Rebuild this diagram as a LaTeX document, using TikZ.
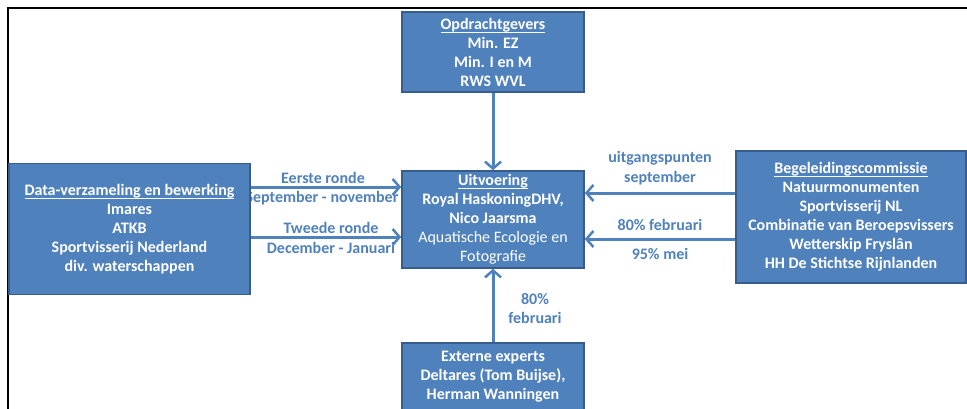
\documentclass[tikz,border=0pt]{standalone}
\usepackage{fontspec}
\setmainfont{Carlito}
\usetikzlibrary{arrows.meta}
\definecolor{boxblue}{HTML}{4F81BD}
\definecolor{boxedge}{HTML}{385D8A}
\newcommand\hdrline[1]{\setbox0=\hbox{#1}\rlap{\rule[-3.6pt]{\wd0}{0.9pt}}\box0}
\tikzset{
  box/.style={draw=boxedge, line width=1.5pt, fill=boxblue, text=white, font=\fontsize{16}{19}\selectfont\bfseries, align=center, inner sep=0pt},
  conn/.style={draw=boxblue, line width=3pt, -{Straight Barb[length=7pt,width=16pt,line width=2.5pt]}},
  lbl/.style={text=boxblue, font=\fontsize{16}{19}\selectfont\bfseries, align=center, inner sep=0pt},
}
\begin{document}
\begin{tikzpicture}[x=1pt,y=-1pt]
\useasboundingbox (0,0) rectangle (967,408);
% frame
\draw[line width=2pt] (8,409) -- (8,8) -- (967,8);
% labels (behind boxes)
\node[lbl] (l1) at (323,178) {Eerste ronde};
\node[lbl] (l2) at (322,198) {September - november};
\node[lbl] (l3) at (331,228) {Tweede ronde};
\node[lbl] (l4) at (331,248) {December - Januari};
\node[lbl] (l5) at (660,158) {uitgangspunten};
\node[lbl] (l6) at (660,178) {september};
\node[lbl] (l7) at (660,225) {80\% februari};
\node[lbl] (l8) at (660,254) {95\% mei};
\node[lbl] (l9) at (535,299) {80\%};
\node[lbl] (l10) at (535,318) {februari};
% boxes
\node[box, minimum width=182, minimum height=80] (opd) at (493,52)
  {\hdrline{Opdrachtgevers}\\Min. EZ\\Min. I en M\\RWS WVL};
\node[box, minimum width=241, minimum height=131] (data) at (129.5,229)
  {\hdrline{Data-verzameling en bewerking}\\Imares\\ATKB\\Sportvisserij Nederland\\div. waterschappen};
\node[box, minimum width=182, minimum height=97] (uitv) at (493,219.5)
  {\hdrline{Uitvoering}\\Royal HaskoningDHV,\\Nico Jaarsma\\{\mdseries Aquatische Ecologie en}\\{\mdseries Fotografie}};
\node[box, minimum width=230, minimum height=132] (beg) at (851,217)
  {\hdrline{Begeleidingscommissie}\\Natuurmonumenten\\Sportvisserij NL\\Combinatie\ van Beroepsvissers\\Wetterskip Fryslân\\HH De Stichtse Rijnlanden};
\node[box, minimum width=182, minimum height=68] (ext) at (493,377)
  {Externe experts\\Deltares (Tom Buijse),\\Herman Wanningen};
% connectors
\draw[conn] (opd.south) -- (uitv.north);
\draw[conn] (ext.north) -- (uitv.south);
\draw[conn] (data.east |- 0,187) -- (uitv.west |- 0,187);
\draw[conn] (data.east |- 0,237) -- (uitv.west |- 0,237);
\draw[conn] (beg.west |- 0,193) -- (uitv.east |- 0,193);
\draw[conn] (beg.west |- 0,239) -- (uitv.east |- 0,239);
\end{tikzpicture}
\end{document}
